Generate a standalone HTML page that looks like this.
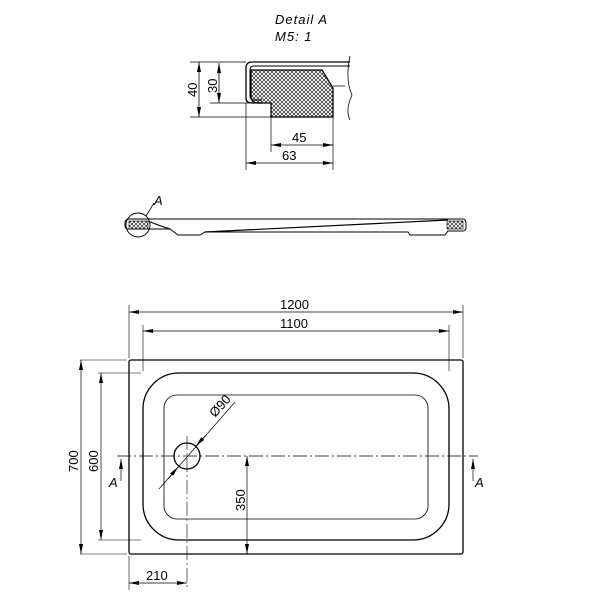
<!DOCTYPE html>
<html><head><meta charset="utf-8"><style>body{margin:0;background:#fff}svg{display:block}text{font-family:"Liberation Sans",sans-serif;fill:#000}</style></head>
<body>
<svg width="600" height="600" viewBox="0 0 600 600" xmlns="http://www.w3.org/2000/svg">
<defs>
<pattern id="h" width="4" height="4" patternUnits="userSpaceOnUse">
<path d="M0 0L4 4M4 0L0 4" stroke="#000" stroke-width="0.6"/>
</pattern>
<marker id="a" viewBox="0 0 10 4" refX="10" refY="2" markerWidth="10" markerHeight="4" orient="auto-start-reverse" markerUnits="userSpaceOnUse"><path d="M0 0L10 2L0 4z" fill="#000"/></marker>
</defs>
<g fill="none" stroke="#000">
<text x="275" y="24" font-size="13" font-style="italic" letter-spacing="1" stroke="none">Detail  A</text>
<text x="275" y="41" font-size="13" font-style="italic" letter-spacing="1" stroke="none">M5: 1</text>
<path d="M350 62H252Q246 62 246 68V98Q246 103 252 103H262" stroke-width="1.3"/>
<path d="M350 66H254Q250 66 250 70V96Q250 100 254 100H262"/>
<path d="M251 70H322L333 88V117H271V103H258Q251 103 251 96Z" fill="url(#h)" stroke-width="1.3"/>
<path d="M333 86H345M350 56Q345 80 352 95Q345 110 350 120" stroke-width="0.8"/>
<path d="M190 62H246M210 103H262M190 117H271M246 103V170M271 117V152M333 117V170" stroke-width="0.7"/>
<path d="M199 62V117" stroke-width="0.8" marker-start="url(#a)" marker-end="url(#a)"/>
<path d="M219 63V103" stroke-width="0.8" marker-start="url(#a)" marker-end="url(#a)"/>
<path d="M271 145H333" stroke-width="0.8" marker-start="url(#a)" marker-end="url(#a)"/>
<path d="M246 163H333" stroke-width="0.8" marker-start="url(#a)" marker-end="url(#a)"/>
<text x="197" y="97" font-size="13" transform="rotate(-90 197 97)" stroke="none">40</text>
<text x="217" y="93" font-size="13" transform="rotate(-90 217 93)" stroke="none">30</text>
<text x="292" y="142" font-size="13" stroke="none">45</text>
<text x="282" y="160" font-size="13" stroke="none">63</text>
<path d="M127 219H463Q466 219 466 224V228Q466 231 462 231H448L445 235H410L408 232H205L200 235H178L170 229H128Q125 229 125 225V223Q125 219 129 219Z" stroke-width="1"/>
<path d="M148 221Q160 226 170 229M205 232L448 220" stroke-width="1.2"/>
<rect x="129" y="221" width="19" height="8" fill="url(#h)" stroke-width="0.6"/>
<rect x="447" y="221" width="16" height="8" fill="url(#h)" stroke-width="0.6"/>
<circle cx="138" cy="225" r="12" stroke-width="0.9"/>
<path d="M146 216L154 203" stroke-width="0.8"/>
<text x="154" y="205" font-size="13" font-style="italic" stroke="none">A</text>
<rect x="129" y="360" width="334" height="194" rx="2" stroke-width="1.3"/>
<rect x="143" y="373" width="306" height="167" rx="36" stroke-width="1.3"/>
<rect x="164" y="395" width="264" height="124" rx="13" stroke-width="0.8"/>
<path d="M117 456H478" stroke-width="0.7" stroke-dasharray="14 3 2 3"/>
<path d="M187 436V590" stroke-width="0.6" stroke-dasharray="14 3 2 3"/>
<circle cx="187" cy="456" r="13" stroke-width="1.3"/>
<path d="M159 489L235 402" stroke-width="0.7"/>
<path d="M168 479L178 467" stroke-width="0.8" marker-end="url(#a)"/>
<path d="M205 436L196 446" stroke-width="0.8" marker-end="url(#a)"/>
<text x="215" y="418" font-size="13" transform="rotate(-48 215 418)" stroke="none">Ø90</text>
<path d="M129 358V305M463 358V305M143 371V325M449 371V325" stroke-width="0.6"/>
<path d="M129 312H463" stroke-width="0.7" marker-start="url(#a)" marker-end="url(#a)"/>
<path d="M143 331H449" stroke-width="0.7" marker-start="url(#a)" marker-end="url(#a)"/>
<text x="280" y="309" font-size="13" stroke="none">1200</text>
<text x="280" y="328" font-size="13" stroke="none">1100</text>
<path d="M80 360H127M98 373H141M80 554H127M98 540H141" stroke-width="0.6"/>
<path d="M81 360V554" stroke-width="0.7" marker-start="url(#a)" marker-end="url(#a)"/>
<path d="M101 373V540" stroke-width="0.7" marker-start="url(#a)" marker-end="url(#a)"/>
<text x="78" y="472" font-size="13" transform="rotate(-90 78 472)" stroke="none">700</text>
<text x="98" y="472" font-size="13" transform="rotate(-90 98 472)" stroke="none">600</text>
<path d="M247 456V554" stroke-width="0.7" marker-start="url(#a)" marker-end="url(#a)"/>
<text x="245" y="511" font-size="13" transform="rotate(-90 245 511)" stroke="none">350</text>
<path d="M129 556V590" stroke-width="0.6"/>
<path d="M129 583H187" stroke-width="0.7" marker-start="url(#a)" marker-end="url(#a)"/>
<text x="146" y="580" font-size="13" stroke="none">210</text>
<path d="M121 481V459" stroke-width="0.7" marker-end="url(#a)"/>
<text x="109" y="487" font-size="13" font-style="italic" stroke="none">A</text>
<path d="M473 481V459" stroke-width="0.7" marker-end="url(#a)"/>
<text x="475" y="487" font-size="13" font-style="italic" stroke="none">A</text>
</g>
</svg>
</body></html>
